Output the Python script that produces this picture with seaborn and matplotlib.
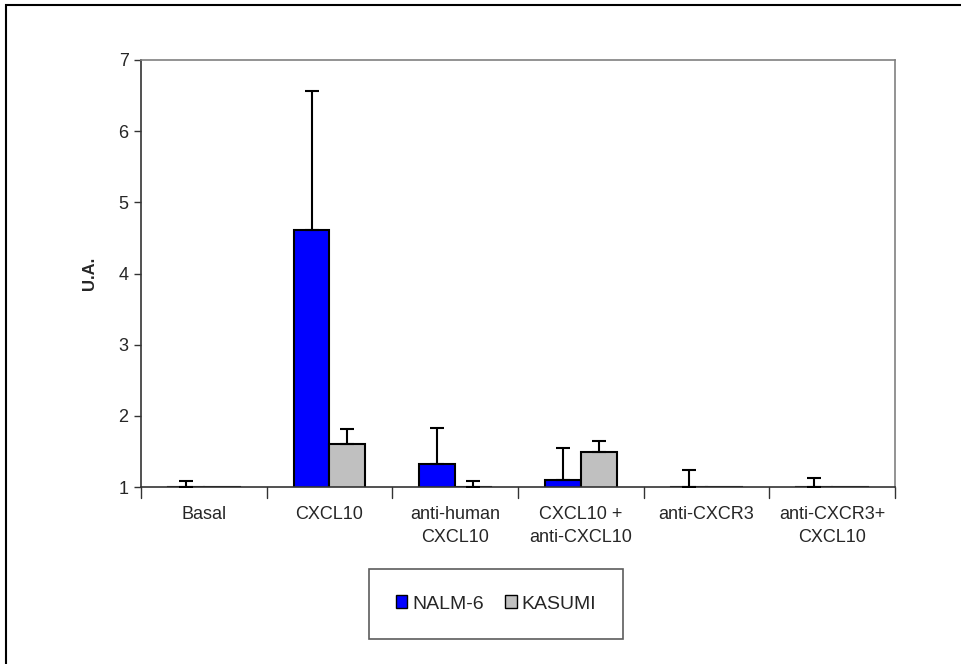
import matplotlib
matplotlib.use("Agg")
import matplotlib.pyplot as plt
import seaborn as sns
import pandas as pd
import numpy as np
from matplotlib.patches import Rectangle, Patch

# Treatment groups shown on the x axis
categories = ["Basal", "CXCL10", "anti-human\nCXCL10", "CXCL10 +\nanti-CXCL10",
              "anti-CXCR3", "anti-CXCR3+\nCXCL10"]
series = ["NALM-6", "KASUMI"]

# Mean response (U.A.) per cell line
nalm6_mean = [1.00, 4.61, 1.32, 1.10, 1.00, 1.00]
kasumi_mean = [1.00, 1.60, 1.00, 1.49, 1.00, 1.00]

# Upper error (standard deviation) per cell line
nalm6_err = [0.08, 1.95, 0.51, 0.45, 0.24, 0.13]
kasumi_err = [0.00, 0.21, 0.08, 0.16, 0.00, 0.00]

colors = {"NALM-6": "#0000FF", "KASUMI": "#C0C0C0"}

df = pd.DataFrame({
    "Treatment": categories * 2,
    "Line": ["NALM-6"] * len(categories) + ["KASUMI"] * len(categories),
    "Value": nalm6_mean + kasumi_mean,
    "Err": nalm6_err + kasumi_err,
})

sns.set_theme(style="white")
plt.rcParams["font.family"] = ["Liberation Sans", "DejaVu Sans"]

fig = plt.figure(figsize=(9.62, 6.64), dpi=100)
ax = fig.add_axes([141 / 962, 1 - 487 / 664, (895 - 141) / 962, (487 - 60) / 664])

sns.barplot(data=df, x="Treatment", y="Value", hue="Line", order=categories,
            hue_order=series, palette=colors, saturation=1, width=0.57,
            errorbar=None, edgecolor="black", linewidth=1.5, legend=False, ax=ax)

# Upward-only error bars, placed at the centre of each drawn bar
for container, line in zip(ax.containers, series):
    sub = df[df["Line"] == line].set_index("Treatment").loc[categories]
    for bar, (val, err) in zip(container, zip(sub["Value"], sub["Err"])):
        if err <= 0:
            continue
        xc = bar.get_x() + bar.get_width() / 2
        ax.errorbar([xc], [val], yerr=[[0], [err]], fmt="none", ecolor="black",
                    elinewidth=1.5, capsize=5, capthick=1.5, zorder=3)

ax.set_ylim(1, 7)
ax.set_xlim(-0.5, len(categories) - 0.5)
ax.set_yticks(range(1, 8))
ax.set_ylabel("U.A.", fontsize=12, fontweight="bold")
ax.yaxis.set_label_coords(-0.058, 0.5)
ax.set_xlabel("")
ax.set_xticks(range(len(categories)))
ax.set_xticklabels(categories, fontsize=13, linespacing=1.45)
ax.tick_params(axis="x", length=0, pad=14)
ax.tick_params(axis="y", left=True, length=5, width=1, color="#333333",
               labelsize=13, pad=4)

# Boundary ticks between groups, like a category axis
for b in np.arange(-0.5, len(categories), 1.0):
    ax.plot([b, b], [0, -0.025], transform=ax.get_xaxis_transform(),
            color="#333333", lw=1, clip_on=False)

for side in ["top", "right"]:
    ax.spines[side].set_color("#808080")
    ax.spines[side].set_linewidth(1.2)
for side in ["left", "bottom"]:
    ax.spines[side].set_color("#333333")
    ax.spines[side].set_linewidth(1.2)

handles = [Patch(facecolor=colors[s], edgecolor="black", linewidth=1) for s in series]
leg = fig.legend(handles, series, loc="center", bbox_to_anchor=(496 / 962, 1 - 604 / 664),
                 ncol=2, frameon=True, fancybox=False, fontsize=14,
                 handlelength=0.6, handleheight=0.6, handletextpad=0.25,
                 columnspacing=1.1, borderpad=1.35, borderaxespad=0)
leg.get_frame().set_edgecolor("#333333")
leg.get_frame().set_linewidth(1.2)

# Outer chart border
fig.patches.append(Rectangle((6 / 962, -0.01), 1.0, 1 - 5 / 664 + 0.01,
                             transform=fig.transFigure, fill=False,
                             edgecolor="black", linewidth=1.5))

fig.savefig("out.png", dpi=100)
